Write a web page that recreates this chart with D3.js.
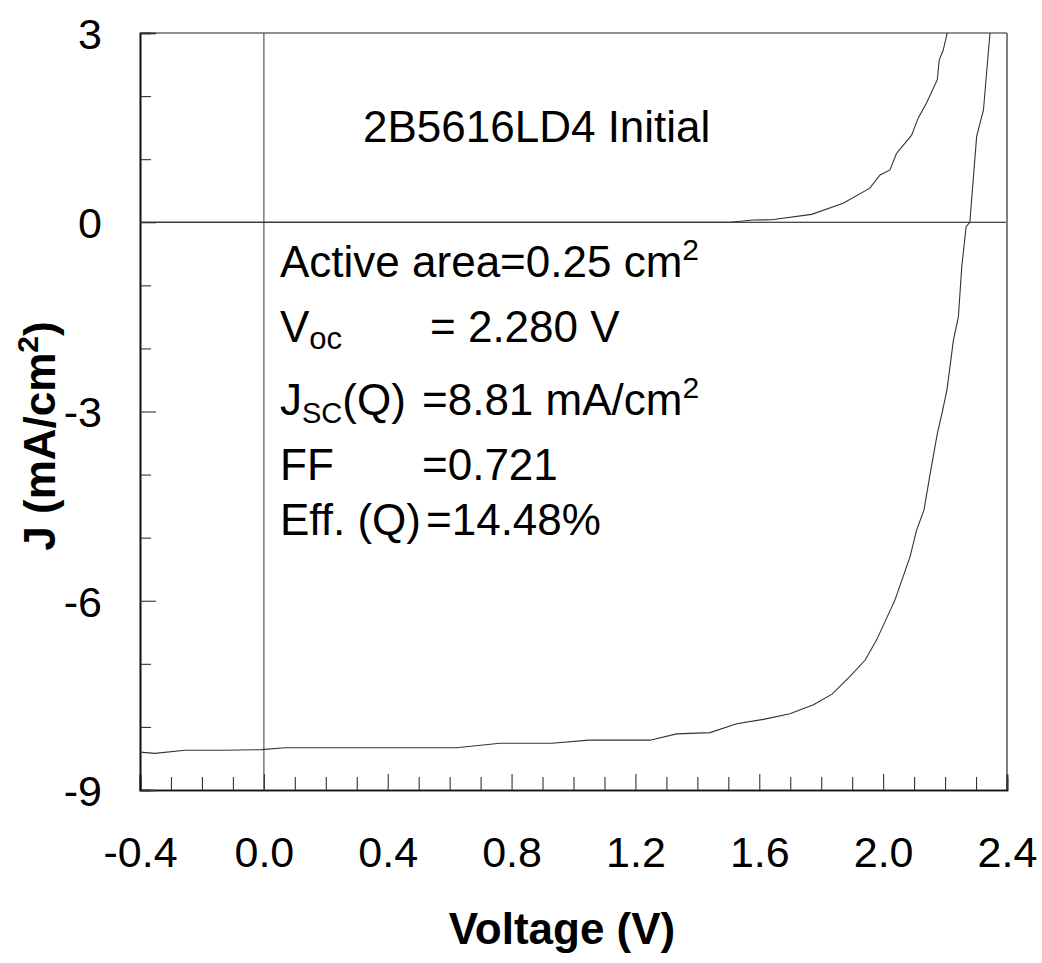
<!DOCTYPE html>
<html>
<head>
<meta charset="utf-8">
<script src="https://cdn.jsdelivr.net/npm/d3@7"></script>
<style>
  html, body { margin: 0; padding: 0; background: #fff; }
  svg { display: block; font-family: "Liberation Sans", Arial, Helvetica, sans-serif; }
</style>
</head>
<body>
<svg id="chart" width="1042" height="963"></svg>
<script>
// Illuminated J-V curve (voltage in V, current density in mA/cm²)
const lightV = [-0.400, -0.352, -0.255, -0.132, -0.007, 0.068, 0.300, 0.622, 0.763, 0.930, 1.050,
                1.247, 1.333, 1.441, 1.527, 1.613, 1.699, 1.775, 1.835, 1.893, 1.942, 1.979, 2.038,
                2.087, 2.108, 2.132, 2.152, 2.175, 2.190, 2.206, 2.227, 2.243, 2.254, 2.268, 2.280,
                2.302, 2.324, 2.345];
const lightJ = [-8.40, -8.42, -8.37, -8.37, -8.36, -8.33, -8.33, -8.33, -8.26, -8.26, -8.21,
                -8.21, -8.11, -8.09, -7.95, -7.88, -7.79, -7.65, -7.48, -7.20, -6.94, -6.62, -5.99,
                -5.30, -4.88, -4.56, -3.98, -3.35, -3.03, -2.66, -1.87, -1.50, -0.70, -0.07, 0.00,
                1.36, 1.78, 3.00];

// Dark J-V curve
const darkV = [-0.400, 0.000, 0.400, 0.800, 1.200, 1.506, 1.581, 1.640, 1.769, 1.871, 1.957,
               1.990, 2.022, 2.043, 2.092, 2.113, 2.140, 2.175, 2.181, 2.194, 2.207];
const darkJ = [0.000, 0.000, 0.000, 0.000, 0.000, 0.000, 0.036, 0.040, 0.125, 0.300, 0.540,
               0.750, 0.830, 1.090, 1.380, 1.650, 1.890, 2.260, 2.570, 2.730, 3.000];

// Axis ticks and labels
const xMajor = [-0.4, 0.0, 0.4, 0.8, 1.2, 1.6, 2.0, 2.4];
const xMajorLabels = ["-0.4", "0.0", "0.4", "0.8", "1.2", "1.6", "2.0", "2.4"];
const xMinor = [-0.3, -0.2, -0.1, 0.1, 0.2, 0.3, 0.5, 0.6, 0.7, 0.9, 1.0, 1.1, 1.3, 1.4, 1.5,
                1.7, 1.8, 1.9, 2.1, 2.2, 2.3];
const yMajor = [3, 0, -3, -6, -9];
const yMajorLabels = ["3", "0", "-3", "-6", "-9"];
const yMinor = [2, 1, -1, -2, -4, -5, -7, -8];

const box = { left: 140, right: 1007, top: 33, bottom: 790 };

const svg = d3.select("#chart");
const x = d3.scaleLinear().domain([-0.4, 2.4]).range([box.left, box.right]);
const y = d3.scaleLinear().domain([-9, 3]).range([box.bottom, box.top]);

svg.append("defs").append("clipPath").attr("id", "plotClip")
  .append("rect")
  .attr("x", box.left).attr("y", box.top)
  .attr("width", box.right - box.left).attr("height", box.bottom - box.top);

// Reference lines through the origin
svg.append("line")
  .attr("x1", x(0)).attr("x2", x(0)).attr("y1", box.top).attr("y2", box.bottom)
  .attr("stroke", "#7a7a7a").attr("stroke-width", 1.5);
svg.append("line")
  .attr("x1", box.left).attr("x2", box.right).attr("y1", y(0)).attr("y2", y(0))
  .attr("stroke", "#111").attr("stroke-width", 1.2);

// Frame: top and right sides
svg.append("line")
  .attr("x1", box.left).attr("x2", box.right).attr("y1", box.top).attr("y2", box.top)
  .attr("stroke", "#222").attr("stroke-width", 1.2);
svg.append("line")
  .attr("x1", box.right).attr("x2", box.right).attr("y1", box.top).attr("y2", box.bottom)
  .attr("stroke", "#808080").attr("stroke-width", 2);

// X axis: minor ticks, then labelled major ticks
const xMinorAxis = d3.axisBottom(x).tickValues(xMinor).tickSize(-13).tickFormat("");
const xMajorAxis = d3.axisBottom(x).tickValues(xMajor).tickSize(-16).tickPadding(46)
  .tickFormat((d, i) => xMajorLabels[i]);

const gxMinor = svg.append("g").attr("transform", `translate(0,${box.bottom})`).call(xMinorAxis);
const gx = svg.append("g").attr("transform", `translate(0,${box.bottom})`).call(xMajorAxis);

// Y axis
const yMinorAxis = d3.axisLeft(y).tickValues(yMinor).tickSize(-11).tickFormat("");
const yMajorAxis = d3.axisLeft(y).tickValues(yMajor).tickSize(-16).tickPadding(38)
  .tickFormat((d, i) => yMajorLabels[i]);

const gyMinor = svg.append("g").attr("transform", `translate(${box.left},0)`).call(yMinorAxis);
const gy = svg.append("g").attr("transform", `translate(${box.left},0)`).call(yMajorAxis);

[gxMinor, gx, gyMinor, gy].forEach(g => {
  g.select(".domain").attr("stroke", "#111").attr("stroke-width", 1.6);
  g.selectAll(".tick line").attr("stroke", "#333").attr("stroke-width", 1.1);
  g.selectAll(".tick text")
    .attr("fill", "#000")
    .style("font-family", "'Liberation Sans', Arial, sans-serif")
    .style("font-size", "43px");
});
gy.selectAll(".tick text").attr("dy", "0.36em");

// Curves
const line = d3.line().x(d => x(d[0])).y(d => y(d[1]));
const plot = svg.append("g").attr("clip-path", "url(#plotClip)");

plot.append("path")
  .datum(darkV.map((v, i) => [v, darkJ[i]]))
  .attr("d", line).attr("fill", "none")
  .attr("stroke", "#333").attr("stroke-width", 1.1);

plot.append("path")
  .datum(lightV.map((v, i) => [v, lightJ[i]]))
  .attr("d", line).attr("fill", "none")
  .attr("stroke", "#333").attr("stroke-width", 1.1);

// Annotations
const note = svg.append("g").attr("fill", "#000").style("font-size", "44px");

note.append("text").attr("x", 363).attr("y", 142).text("2B5616LD4 Initial");

const t1 = note.append("text").attr("x", 280).attr("y", 277);
t1.append("tspan").text("Active area=0.25 cm");
t1.append("tspan").attr("dy", -17).style("font-size", "30px").text("2");

const t2 = note.append("text").attr("x", 280).attr("y", 342);
t2.append("tspan").text("V");
t2.append("tspan").attr("dy", 7).style("font-size", "31px").text("oc");
note.append("text").attr("x", 430).attr("y", 342).text("= 2.280 V");

const t3 = note.append("text").attr("x", 280).attr("y", 415);
t3.append("tspan").text("J");
t3.append("tspan").attr("dy", 8).style("font-size", "29px").text("SC");
t3.append("tspan").attr("dy", -8).text("(Q)");
const t3b = note.append("text").attr("x", 422).attr("y", 415);
t3b.append("tspan").text("=8.81 mA/cm");
t3b.append("tspan").attr("dy", -17).style("font-size", "30px").text("2");

note.append("text").attr("x", 280).attr("y", 480).text("FF");
note.append("text").attr("x", 422).attr("y", 480).text("=0.721");

note.append("text").attr("x", 280).attr("y", 535).text("Eff. (Q)");
note.append("text").attr("x", 426).attr("y", 535).text("=14.48%");

// Axis titles
svg.append("text")
  .attr("x", 562).attr("y", 944)
  .attr("text-anchor", "middle")
  .style("font-size", "44px").style("font-weight", "bold")
  .text("Voltage (V)");

const yt = svg.append("text")
  .attr("transform", "translate(55,436) rotate(-90)")
  .attr("text-anchor", "middle")
  .style("font-size", "44px").style("font-weight", "bold");
yt.append("tspan").text("J (mA/cm");
yt.append("tspan").attr("dy", -17).style("font-size", "30px").text("2");
yt.append("tspan").attr("dy", 17).text(")");
</script>
</body>
</html>
